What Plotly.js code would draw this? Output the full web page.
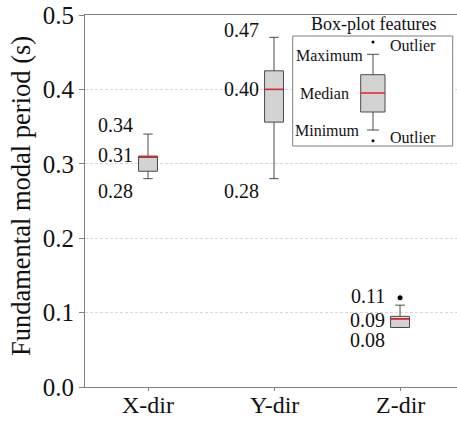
<!DOCTYPE html>
<html>
<head>
<meta charset="utf-8">
<script src="https://cdn.plot.ly/plotly-3.0.1.min.js"></script>
<style>html,body{margin:0;padding:0;background:#fff;}#chart{width:457px;height:421px;}</style>
</head>
<body>
<div id="chart"></div>
<script>
// Data
const categories = ["X-dir", "Y-dir", "Z-dir"];
const positions = [0, 1, 2];
const minVals = [0.28, 0.28, 0.08];
const q1Vals = [0.29, 0.356, 0.080];
const medianVals = [0.31, 0.40, 0.0915];
const q3Vals = [0.31, 0.425, 0.095];
const maxVals = [0.34, 0.47, 0.11];
const outlierX = [2];
const outlierY = [0.12];
// Labels shown next to the boxes
const labelMax = ["0.34", "0.47", "0.11"];
const labelMed = ["0.31", "0.40", "0.09"];
const labelMin = ["0.28", "0.28", "0.08"];
const labelMaxY = [0.352, 0.480, 0.1227];
const labelMedY = [0.312, 0.400, 0.0907];
const labelMinY = [0.263, 0.263, 0.0627];

const FONT = "'Liberation Serif', 'Times New Roman', serif";
const TOP = 15, BOTTOM_PX = 387;
const boxW = 0.15;
const traces = [];
positions.forEach((p, i) => {
  traces.push({
    type: "box",
    x: [p],
    q1: [q1Vals[i]], median: [medianVals[i]], q3: [q3Vals[i]],
    lowerfence: [minVals[i]], upperfence: [maxVals[i]],
    width: boxW,
    whiskerwidth: 0.5,
    fillcolor: "#d3d3d3",
    line: {color: "#4a4a4a", width: 1},
    boxpoints: false,
    showlegend: false,
    hoverinfo: "skip"
  });
  traces.push({
    type: "scatter", mode: "lines",
    x: [p - boxW / 2, p + boxW / 2],
    y: [medianVals[i], medianVals[i]],
    line: {color: "#e8202a", width: 1.5},
    showlegend: false, hoverinfo: "skip"
  });
});
traces.push({
  type: "scatter", mode: "markers",
  x: outlierX, y: outlierY,
  marker: {color: "#000", size: 5},
  showlegend: false, hoverinfo: "skip"
});

const annotations = [];
positions.forEach((p, i) => {
  const dx = -0.105;
  [[labelMax[i], labelMaxY[i]], [labelMed[i], labelMedY[i]], [labelMin[i], labelMinY[i]]].forEach(([t, y]) => {
    annotations.push({x: p + dx, y: y, xref: "x", yref: "y", text: t, showarrow: false,
      xanchor: "right", yanchor: "middle", font: {family: FONT, size: 20, color: "#111"}});
  });
});

// Inset legend (schematic) in paper coordinates
const px = v => (v - 85) / 372;
const py = v => (BOTTOM_PX - v) / (BOTTOM_PX - TOP);
// category labels below the axis
positions.forEach((p, i) => {
  annotations.push({x: p, y: py(405), xref: "x", yref: "paper", text: categories[i], showarrow: false,
    xanchor: "center", yanchor: "middle", font: {family: FONT, size: 24, color: "#111"}});
});
annotations.push({x: -0.172, y: py(196), xref: "paper", yref: "paper", text: "Fundamental modal period (s)",
  textangle: -90, showarrow: false, xanchor: "center", yanchor: "middle", font: {family: FONT, size: 26.5, color: "#111"}});
annotations.push({x: px(373), y: py(24), xref: "paper", yref: "paper", text: "Box-plot features", showarrow: false,
  xanchor: "center", yanchor: "middle", font: {family: FONT, size: 18, color: "#111"}});
annotations.push({x: px(365), y: py(55), xref: "paper", yref: "paper", text: "Maximum", showarrow: false,
  xanchor: "right", yanchor: "middle", font: {family: FONT, size: 16, color: "#111"}});
annotations.push({x: px(298), y: py(93), xref: "paper", yref: "paper", text: "Median", showarrow: false,
  xanchor: "left", yanchor: "middle", font: {family: FONT, size: 16, color: "#111"}});
annotations.push({x: px(362), y: py(130), xref: "paper", yref: "paper", text: "Minimum", showarrow: false,
  xanchor: "right", yanchor: "middle", font: {family: FONT, size: 16, color: "#111"}});
annotations.push({x: px(388), y: py(45), xref: "paper", yref: "paper", text: "Outlier", showarrow: false,
  xanchor: "left", yanchor: "middle", font: {family: FONT, size: 16, color: "#111"}});
annotations.push({x: px(388), y: py(137), xref: "paper", yref: "paper", text: "Outlier", showarrow: false,
  xanchor: "left", yanchor: "middle", font: {family: FONT, size: 16, color: "#111"}});

const gl = {color: "#4a4a4a", width: 1};
const shapes = [
  {type: "rect", xref: "paper", yref: "paper", x0: px(292.7), x1: px(452.7), y0: py(146), y1: py(36), line: {color: "#808080", width: 1}, fillcolor: "rgba(255,255,255,1)", layer: "above"},
  {type: "line", xref: "paper", yref: "paper", x0: px(373), x1: px(373), y0: py(54.3), y1: py(74.7), line: gl},
  {type: "line", xref: "paper", yref: "paper", x0: px(373), x1: px(373), y0: py(112), y1: py(130), line: gl},
  {type: "line", xref: "paper", yref: "paper", x0: px(367), x1: px(379), y0: py(54.3), y1: py(54.3), line: gl},
  {type: "line", xref: "paper", yref: "paper", x0: px(367), x1: px(379), y0: py(130), y1: py(130), line: gl},
  {type: "rect", xref: "paper", yref: "paper", x0: px(360.7), x1: px(385), y0: py(112), y1: py(74.7), line: gl, fillcolor: "#d3d3d3"},
  {type: "line", xref: "paper", yref: "paper", x0: px(360.7), x1: px(385), y0: py(93), y1: py(93), line: {color: "#e8202a", width: 1.5}},
  {type: "circle", xref: "paper", yref: "paper", x0: px(371.5), x1: px(374.5), y0: py(43.5), y1: py(40.5), line: {width: 0}, fillcolor: "#000"},
  {type: "circle", xref: "paper", yref: "paper", x0: px(371.5), x1: px(374.5), y0: py(142.2), y1: py(139.2), line: {width: 0}, fillcolor: "#000"}
];

const layout = {
  width: 457, height: 421,
  margin: {l: 85, r: 0, t: TOP, b: 421 - BOTTOM_PX},
  paper_bgcolor: "#fff", plot_bgcolor: "#fff",
  font: {family: FONT, color: "#111"},
  xaxis: {
    type: "linear", range: [-0.5, 2.452], tickvals: positions, showticklabels: false,
    showgrid: false, zeroline: false, showline: true, linecolor: "#808080", linewidth: 1, mirror: true,
    ticks: "outside", ticklen: 3, tickcolor: "#808080"
  },
  yaxis: {
    range: [0, 0.5], dtick: 0.1, tickformat: ".1f",
    showgrid: true, gridcolor: "#d8d8d8", griddash: "3px,2px", gridwidth: 1,
    zeroline: false, showline: true, linecolor: "#808080", linewidth: 1,
    ticks: "outside", ticklen: 5, tickcolor: "#808080", ticklabeloverflow: "allow",
    tickfont: {family: FONT, size: 25, color: "#111"}
  },
  annotations: annotations,
  shapes: shapes,
  showlegend: false
};
Plotly.newPlot("chart", traces, layout, {displayModeBar: false, staticPlot: true});
</script>
</body>
</html>
